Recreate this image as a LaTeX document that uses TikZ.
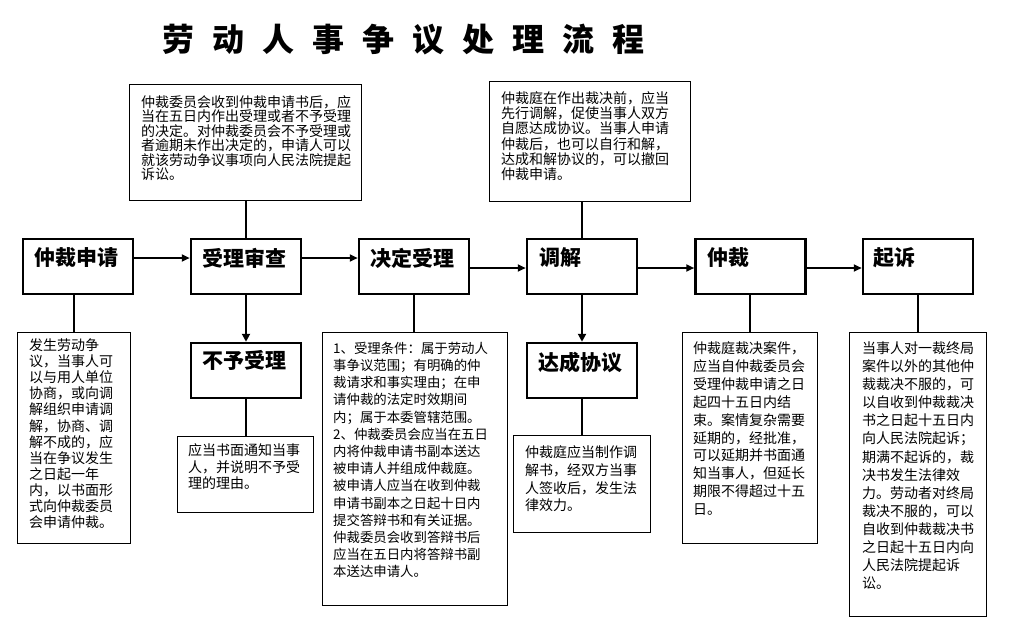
\documentclass[tikz,border=0pt]{standalone}
\usepackage{fontspec}
\newfontfamily\cjk{Noto Sans CJK SC}
\usetikzlibrary{arrows.meta}
\newcommand\tsp{\hspace{18pt}}
\begin{document}
\begin{tikzpicture}[x=1pt,y=-1pt,
  mainbox/.style={draw, line width=2.5pt, minimum width=110pt, minimum height=55pt, inner sep=0pt},
  thinbox/.style={draw, line width=1.1pt, inner sep=0pt},
  mlabel/.style={anchor=west, inner sep=0pt, font=\cjk\bfseries\fontsize{21}{21}\selectfont},
  desc/.style={anchor=north west, inner sep=0pt, align=left},
  harrow/.style={line width=2pt, -{Triangle[length=8pt,width=7pt]}},
  varrow/.style={line width=2.5pt, -{Triangle[length=8pt,width=8pt]}},
  conn/.style={line width=1.1pt}]
\fill[white] (0,0) rectangle (1011,618);
\useasboundingbox (0,0) rectangle (1011,618);

% title
\node[anchor=west, inner sep=0pt, font=\cjk\bfseries\fontsize{32}{32}\selectfont] (title) at (162,40)
  {劳\tsp 动\tsp 人\tsp 事\tsp 争\tsp 议\tsp 处\tsp 理\tsp 流\tsp 程};

% main boxes
\node[mainbox] (b1) at (78,266.5) {};
\node[mainbox] (b2) at (246,266.5) {};
\node[mainbox] (b3) at (414,266.5) {};
\node[mainbox] (b4) at (582,266.5) {};
\node[mainbox] (b5) at (750.5,266.5) {};
\node[mainbox] (b6) at (918,266.5) {};
\node[mainbox] (nb) at (246,370.5) {};
\node[mainbox] (ag) at (582,370.5) {};

\node[mlabel] (l1) at (34,258) {仲裁申请};
\node[mlabel] (l2) at (202,258) {受理审查};
\node[mlabel] (l3) at (370,258) {决定受理};
\node[mlabel] (l4) at (539,258) {调解};
\node[mlabel] (l5) at (707,258) {仲裁};
\node[mlabel] (l6) at (873,258) {起诉};
\node[mlabel] (l7) at (202,360) {不予受理};
\node[mlabel] (l8) at (538,362) {达成协议};

% thin boxes
\node[thinbox, minimum width=232pt, minimum height=116pt] (T1) at (245.5,142.5) {};
\node[thinbox, minimum width=201pt, minimum height=120pt] (T2) at (590,141.5) {};
\node[thinbox, minimum width=113pt, minimum height=211pt] (D1) at (74,438) {};
\node[thinbox, minimum width=136pt, minimum height=76pt] (D2) at (245.5,474.5) {};
\node[thinbox, minimum width=185pt, minimum height=273pt] (D3) at (415,469) {};
\node[thinbox, minimum width=137pt, minimum height=97pt] (D4) at (582,484) {};
\node[thinbox, minimum width=135pt, minimum height=211pt] (D5) at (750,438) {};
\node[thinbox, minimum width=137pt, minimum height=284pt] (D6) at (918,474.5) {};

% texts
\node[desc, font=\cjk\fontsize{14}{14.5}\selectfont] (t1) at (141,95.2)
 {仲裁委员会收到仲裁申请书后，应\\当在五日内作出受理或者不予受理\\的决定。对仲裁委员会不予受理或\\者逾期未作出决定的，申请人可以\\就该劳动争议事项向人民法院提起\\诉讼。};
\node[desc, font=\cjk\fontsize{14}{15.2}\selectfont] (t2) at (501,91.5)
 {仲裁庭在作出裁决前，应当\\先行调解，促使当事人双方\\自愿达成协议。当事人申请\\仲裁后，也可以自行和解，\\达成和解协议的，可以撤回\\仲裁申请。};
\node[desc, font=\cjk\fontsize{14}{16.1}\selectfont] (d1) at (29,338.5)
 {发生劳动争\\议，当事人可\\以与用人单位\\协商，或向调\\解组织申请调\\解，协商、调\\解不成的，应\\当在争议发生\\之日起一年\\内，以书面形\\式向仲裁委员\\会申请仲裁。};
\node[desc, font=\cjk\fontsize{14}{16.7}\selectfont] (d2) at (188,443.5)
 {应当书面通知当事\\人，并说明不予受\\理的理由。};
\node[desc, font=\cjk\fontsize{13.4}{17.2}\selectfont] (d3) at (333,341.8)
 {1、受理条件：属于劳动人\\事争议范围；有明确的仲\\裁请求和事实理由；在申\\请仲裁的法定时效期间\\内；属于本委管辖范围。\\2、仲裁委员会应当在五日\\内将仲裁申请书副本送达\\被申请人并组成仲裁庭。\\被申请人应当在收到仲裁\\申请书副本之日起十日内\\提交答辩书和有关证据。\\仲裁委员会收到答辩书后\\应当在五日内将答辩书副\\本送达申请人。};
\node[desc, font=\cjk\fontsize{14}{17.8}\selectfont] (d4) at (525,445.5)
 {仲裁庭应当制作调\\解书，经双方当事\\人签收后，发生法\\律效力。};
\node[desc, font=\cjk\fontsize{14}{17.9}\selectfont] (d5) at (693,341.5)
 {仲裁庭裁决案件，\\应当自仲裁委员会\\受理仲裁申请之日\\起四十五日内结\\束。案情复杂需要\\延期的，经批准，\\可以延期并书面通\\知当事人，但延长\\期限不得超过十五\\日。};
\node[desc, font=\cjk\fontsize{14}{18.1}\selectfont] (d6) at (862,341.5)
 {当事人对一裁终局\\案件以外的其他仲\\裁裁决不服的，可\\以自收到仲裁裁决\\书之日起十五日内\\向人民法院起诉；\\期满不起诉的，裁\\决书发生法律效\\力。劳动者对终局\\裁决不服的，可以\\自收到仲裁裁决书\\之日起十五日内向\\人民法院提起诉\\讼。};

% arrows
\draw[harrow] ([yshift=8.5pt]b1.east) -- ([yshift=8.5pt]b2.west);
\draw[harrow] ([yshift=8.5pt]b2.east) -- ([yshift=8.5pt]b3.west);
\draw[harrow] ([yshift=-1.5pt]b3.east) -- ([yshift=-1.5pt]b4.west);
\draw[harrow] ([yshift=-1.5pt]b4.east) -- ([yshift=-1.5pt]b5.west);
\draw[harrow] ([yshift=-1.5pt]b5.east) -- ([yshift=-1.5pt]b6.west);
\draw[varrow] (b2.south) -- (nb.north);
\draw[varrow] (b4.south) -- (ag.north);

% connectors
\draw[conn] (b2.north) -- (b2.north |- T1.south);
\draw[conn] (b4.north) -- (b4.north |- T2.south);
\draw[conn] (D1.north) -- (D1.north |- b1.south);
\draw[conn] (b3.south) -- (b3.south |- D3.north);
\draw[conn] (D5.north) -- (D5.north |- b5.south);
\draw[conn] (D6.north) -- (D6.north |- b6.south);
\draw[conn] (nb.south) -- (nb.south |- D2.north);
\draw[conn] (ag.south) -- (ag.south |- D4.north);
\end{tikzpicture}
\end{document}
